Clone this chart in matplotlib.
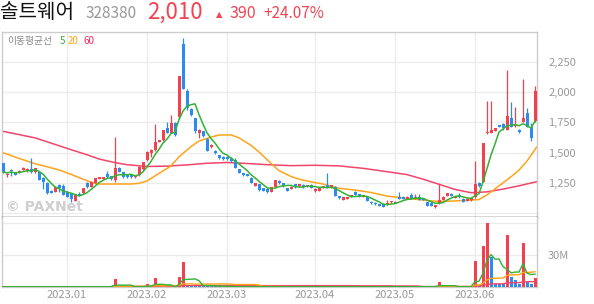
import matplotlib
matplotlib.use("Agg")
import matplotlib.pyplot as plt
import numpy as np
import pandas as pd

plt.rcParams["font.family"] = ["Noto Sans CJK KR", "DejaVu Sans"]

# daily candles (trading-day index 0..133)
opens = [1410, 1315, 1360, 1333, 1333, 1355, 1345, 1368, 1340, 1342,
         1290, 1250, 1185, 1173, 1232, 1225, 1178, 1165, 1100, 1157,
         1163, 1246, 1218, 1252, 1282, 1285, 1323, 1305, 1275, 1370,
         1338, 1312, 1315, 1295, 1312, 1365, 1438, 1500, 1520, 1590,
         1602, 1705, 1665, 1745, 1795, 2400, 2010, 1860, 1783, 1660,
         1675, 1612, 1545, 1515, 1477, 1465, 1462, 1455, 1440, 1362,
         1330, 1323, 1288, 1223, 1240, 1205, 1200, 1176, 1218, 1265,
         1246, 1204, 1201, 1238, 1220, 1235, 1220, 1235, 1180, 1185,
         1208, 1232, 1212, 1218, 1140, 1107, 1115, 1135, 1176, 1155,
         1135, 1130, 1093, 1085, 1074, 1078, 1072, 1088, 1085, 1136,
         1135, 1117, 1145, 1116, 1136, 1122, 1092, 1085, 1048, 1080,
         1108, 1142, 1160, 1125, 1148, 1120, 1100, 1105, 1130, 1250,
         1260, 1660, 1665, 1680, 1728, 1738, 1690, 1785, 1720, 1688,
         1756, 1830, 1715, 1760]
highs = [1415, 1328, 1362, 1335, 1355, 1378, 1370, 1455, 1375, 1345,
         1295, 1255, 1188, 1215, 1240, 1240, 1180, 1168, 1160, 1170,
         1210, 1255, 1262, 1292, 1300, 1302, 1350, 1310, 1632, 1380,
         1342, 1315, 1320, 1315, 1385, 1425, 1510, 1530, 1740, 1608,
         1690, 1755, 1810, 1750, 2135, 2450, 2030, 1865, 1790, 1692,
         1680, 1618, 1570, 1520, 1482, 1470, 1468, 1460, 1458, 1365,
         1333, 1326, 1300, 1250, 1243, 1208, 1203, 1215, 1276, 1275,
         1249, 1207, 1221, 1241, 1243, 1238, 1235, 1238, 1203, 1208,
         1225, 1335, 1233, 1221, 1143, 1133, 1135, 1151, 1179, 1158,
         1151, 1133, 1096, 1088, 1077, 1081, 1110, 1103, 1098, 1170,
         1138, 1139, 1168, 1160, 1160, 1125, 1095, 1088, 1069, 1238,
         1138, 1165, 1163, 1143, 1165, 1123, 1121, 1128, 1430, 1258,
         1582, 1930, 1930, 1705, 1730, 1742, 2180, 1920, 1875, 1692,
         2105, 1870, 1745, 2055]
lows = [1335, 1297, 1305, 1312, 1330, 1352, 1338, 1335, 1335, 1270,
        1200, 1160, 1165, 1170, 1178, 1145, 1130, 1093, 1098, 1140,
        1160, 1210, 1215, 1248, 1278, 1282, 1292, 1275, 1255, 1338,
        1290, 1292, 1288, 1290, 1308, 1360, 1430, 1462, 1515, 1585,
        1598, 1660, 1660, 1640, 1790, 2025, 1855, 1805, 1665, 1620,
        1630, 1510, 1540, 1490, 1448, 1440, 1440, 1425, 1372, 1330,
        1310, 1305, 1248, 1220, 1185, 1182, 1165, 1173, 1215, 1244,
        1217, 1183, 1198, 1210, 1217, 1209, 1217, 1207, 1177, 1182,
        1205, 1210, 1209, 1138, 1118, 1104, 1112, 1132, 1147, 1132,
        1132, 1100, 1077, 1070, 1055, 1049, 1069, 1085, 1082, 1112,
        1112, 1114, 1112, 1113, 1107, 1107, 1055, 1059, 1045, 1077,
        1105, 1139, 1139, 1122, 1127, 1092, 1097, 1102, 1125, 1212,
        1255, 1655, 1660, 1675, 1710, 1690, 1685, 1710, 1715, 1660,
        1750, 1710, 1598, 1755]
closes = [1340, 1325, 1350, 1315, 1350, 1372, 1365, 1340, 1370, 1275,
          1260, 1165, 1168, 1212, 1205, 1150, 1135, 1120, 1157, 1145,
          1205, 1215, 1255, 1288, 1295, 1298, 1295, 1280, 1370, 1342,
          1295, 1300, 1295, 1310, 1380, 1420, 1505, 1520, 1588, 1602,
          1684, 1665, 1747, 1645, 2130, 2030, 1870, 1807, 1680, 1686,
          1635, 1515, 1563, 1495, 1453, 1445, 1445, 1430, 1376, 1335,
          1313, 1308, 1252, 1246, 1190, 1186, 1170, 1212, 1273, 1248,
          1220, 1186, 1218, 1213, 1240, 1212, 1232, 1210, 1200, 1205,
          1222, 1213, 1230, 1142, 1122, 1130, 1132, 1148, 1150, 1135,
          1148, 1103, 1080, 1073, 1058, 1052, 1085, 1100, 1095, 1115,
          1115, 1136, 1115, 1136, 1110, 1110, 1058, 1062, 1066, 1108,
          1135, 1162, 1142, 1140, 1130, 1095, 1118, 1125, 1240, 1222,
          1578, 1672, 1687, 1700, 1715, 1702, 1800, 1715, 1728, 1667,
          1785, 1715, 1620, 2010]

# volume in millions of shares; most days are tiny
volume = [0.3] * 134
volume_spikes = {28: 7.5, 36: 2.8, 38: 8.7, 44: 9.7, 45: 23.7, 46: 1.6,
                 47: 1.5, 48: 1.4, 49: 1.3, 50: 1.2, 51: 1.1, 52: 1.0,
                 53: 0.9, 54: 0.8, 109: 5.0, 118: 24.4, 119: 1.5, 120: 38.4,
                 121: 59.7, 122: 28.1, 123: 2.6, 124: 2.5, 125: 2.4,
                 126: 48.7, 127: 9.7, 128: 6.6, 129: 2.5, 130: 41.6,
                 131: 4.4, 132: 3.1, 133: 8.7}
for k, v in volume_spikes.items():
    volume[k] = v

# 20- and 60-day moving averages, read at a few days
ma20_days = [0, 4, 8, 11, 14, 17, 20, 22.5, 24, 32, 34, 36, 39, 42, 44, 47,
             49, 52, 54, 57, 59, 62, 64, 67, 69, 72, 74, 77, 80, 84, 88, 92,
             96, 101, 105, 109, 113, 117, 119, 121, 123, 125, 127, 129, 131,
             133.4]
ma20_vals = [1499, 1452, 1408, 1383, 1356, 1320, 1280, 1248, 1240, 1240,
             1246, 1265, 1328, 1390, 1465, 1550, 1596, 1628, 1646, 1646,
             1622, 1560, 1505, 1411, 1350, 1302, 1280, 1258, 1240, 1205,
             1190, 1170, 1140, 1122, 1107, 1095, 1100, 1107, 1112, 1150,
             1200, 1250, 1300, 1355, 1430, 1545]
ma60_days = [0, 8, 16, 21, 24, 28, 31, 36, 41, 46, 51, 56, 61, 66, 72, 78,
             84, 90, 96, 101, 105, 109, 113, 117, 121, 125, 129, 133.4]
ma60_vals = [1676, 1622, 1535, 1482, 1447, 1417, 1400, 1385, 1388, 1398,
             1412, 1418, 1410, 1400, 1392, 1395, 1390, 1370, 1342, 1318,
             1280, 1238, 1195, 1168, 1175, 1198, 1225, 1259]

month_days = [16, 36, 56, 78, 98, 118]
month_labels = ["2023.01", "2023.02", "2023.03", "2023.04", "2023.05", "2023.06"]
price_ticks = [1250, 1500, 1750, 2000, 2250]

UP = "#f2404f"
DOWN = "#2b8bef"
GREEN = "#33b233"
ORANGE = "#ffa31a"
PINK = "#f2456a"
GRID = "#ececec"
BORDER = "#cccccc"

W, H = 594, 304
fig = plt.figure(figsize=(W / 100, H / 100), dpi=100)
ax = fig.add_axes([2 / W, 1 - 217 / H, 535 / W, 185 / H])
axv = fig.add_axes([2 / W, 1 - 287 / H, 535 / W, 70 / H], sharex=ax)

o = np.array(opens)
c = np.array(closes)
hi = np.array(highs)
lo = np.array(lows)
x = np.arange(len(closes))
up = c >= o
colors = np.where(up, UP, DOWN)

ax.vlines(x, lo, hi, colors=colors, linewidth=0.9, zorder=3)
body_lo = np.minimum(o, c)
body_h = np.maximum(np.abs(c - o), 4)
ax.bar(x, body_h, bottom=body_lo, width=0.75, color=colors, zorder=3)

ma5 = pd.Series(closes).rolling(5, min_periods=1).mean()
ax.plot(ma60_days, ma60_vals, color=PINK, linewidth=1.1, zorder=2)
ax.plot(ma20_days, ma20_vals, color=ORANGE, linewidth=1.1, zorder=2)
ax.plot(x, ma5, color=GREEN, linewidth=1.1, zorder=4)

ax.set_xlim(-0.25, 133.5)
ax.set_ylim(967, 2498)
ax.yaxis.tick_right()
ax.set_yticks(price_ticks)
ax.set_yticklabels([f"{t:,}" for t in price_ticks])
ax.set_yticks([1000], minor=True)
ax.tick_params(axis="y", which="both", length=0, pad=8, labelsize=8,
               labelcolor="#999999")
ax.tick_params(axis="x", which="both", length=0, labelbottom=False)
ax.set_xticks(month_days)
ax.grid(True, which="both", color=GRID, linewidth=1.0, zorder=0)
for side in ["top", "left", "right"]:
    ax.spines[side].set_color(BORDER)
    ax.spines[side].set_linewidth(1.0)
ax.spines["bottom"].set_color("#333333")
ax.spines["bottom"].set_linewidth(1.0)

# volume panel
vol = pd.Series(volume)
vcolors = [UP if i == 0 or volume[i] >= volume[i - 1] else DOWN
           for i in range(len(volume))]
axv.bar(x, volume, width=0.75, color=vcolors, zorder=3)
axv.plot(x, vol.rolling(60, min_periods=1).mean(), color=PINK, linewidth=1.0, zorder=4)
axv.plot(x, vol.rolling(20, min_periods=1).mean(), color=ORANGE, linewidth=1.0, zorder=4)
axv.plot(x, vol.rolling(5, min_periods=1).mean(), color=GREEN, linewidth=1.0, zorder=4)
axv.set_ylim(0, 65.6)
axv.yaxis.tick_right()
axv.set_yticks([30])
axv.set_yticklabels(["30M"])
axv.set_yticks([60], minor=True)
axv.tick_params(axis="y", which="both", length=0, pad=8, labelsize=8,
                labelcolor="#999999")
axv.set_xticks(month_days)
axv.set_xticklabels(month_labels)
axv.tick_params(axis="x", length=0, pad=2, labelsize=8, labelcolor="#999999")
axv.grid(True, which="both", color=GRID, linewidth=1.0, zorder=0)
axv.spines["top"].set_visible(False)
for side in ["left", "right", "bottom"]:
    axv.spines[side].set_color(BORDER)
    axv.spines[side].set_linewidth(1.0)

# legend of moving averages
fy = 1 - 41 / H
fig.text(7 / W, fy, "이동평균선", color="#888888", fontsize=7, va="center")
fig.text(60 / W, fy, "5", color=GREEN, fontsize=7, va="center")
fig.text(68 / W, fy, "20", color=ORANGE, fontsize=7, va="center")
fig.text(83 / W, fy, "60", color="#ee2a5d", fontsize=7, va="center")

# watermark
fig.text(6 / W, 1 - 207 / H, "© PAXNet", color="#cfcfcf", fontsize=10,
         fontweight="bold", va="center", family=["DejaVu Sans"])

# header
by = 1 - 18.5 / H
fig.text(0, by, "솔트웨어", color="#111111", fontsize=14.5, fontweight="medium",
         va="baseline")
fig.text(86 / W, by, "328380", color="#999999", fontsize=11, va="baseline")
fig.text(147 / W, by, "2,010", color="#f04452", fontsize=16, va="baseline")
fig.text(216 / W, by + 1 / H, "▲", color="#f04452", fontsize=6, va="baseline",
         family=["DejaVu Sans"])
fig.text(230 / W, by, "390", color="#f04452", fontsize=11.5, va="baseline")
fig.text(263 / W, by, "+24.07%", color="#f04452", fontsize=11, va="baseline")

fig.savefig("out.png", dpi=100)
